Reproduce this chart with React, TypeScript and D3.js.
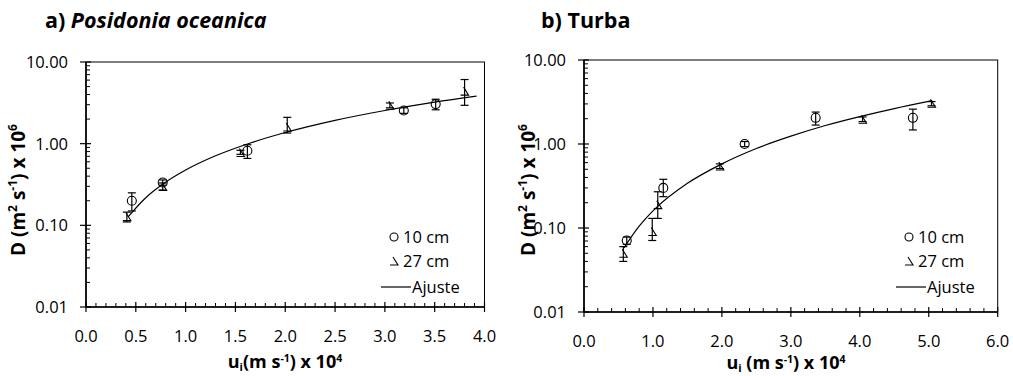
import React from "react";
import * as d3 from "d3";

// ---- Data: panel a) Posidonia oceanica ----
const a10u = [0.46, 0.77, 1.62, 3.19, 3.51];
const a10D = [0.2, 0.335, 0.82, 2.55, 3.05];
const a10Lo = [0.15, 0.31, 0.66, 2.35, 2.6];
const a10Hi = [0.25, 0.36, 0.97, 2.75, 3.5];

const a27u = [0.41, 0.77, 1.55, 2.02, 3.05, 3.8];
const a27D = [0.128, 0.3, 0.78, 1.6, 2.95, 4.4];
const a27Lo = [0.11, 0.27, 0.74, 1.35, 2.75, 2.95];
const a27Hi = [0.145, 0.33, 0.83, 2.1, 3.15, 6.1];

const aFitU = [0.42, 0.6, 0.78, 1.0, 1.3, 1.65, 2.0, 2.5, 3.0, 3.5, 3.92];
const aFitD = [0.126, 0.218, 0.325, 0.475, 0.71, 1.02, 1.37, 1.93, 2.55, 3.23, 3.83];

// ---- Data: panel b) Turba ----
const b10u = [0.62, 1.15, 2.33, 3.36, 4.77];
const b10D = [0.071, 0.3, 1.0, 2.05, 2.05];
const b10Lo = [0.064, 0.236, 0.93, 1.68, 1.47];
const b10Hi = [0.078, 0.38, 1.07, 2.4, 2.6];

const b27u = [0.57, 0.99, 1.07, 1.97, 4.04, 5.04];
const b27D = [0.05, 0.091, 0.19, 0.547, 1.97, 3.05];
const b27Lo = [0.04, 0.071, 0.13, 0.51, 1.85, 2.85];
const b27Hi = [0.06, 0.13, 0.27, 0.58, 2.1, 3.2];

const bFitU = [0.58, 0.8, 1.0, 1.5, 2.0, 2.5, 3.0, 3.5, 4.0, 4.5, 5.05];
const bFitD = [0.058, 0.105, 0.16, 0.34, 0.58, 0.885, 1.24, 1.66, 2.12, 2.64, 3.28];

const yTickVals = [0.01, 0.1, 1, 10];
const yTickLabels = ["0.01", "0.10", "1.00", "10.00"];
const aXTicks = [0, 0.5, 1, 1.5, 2, 2.5, 3, 3.5, 4];
const bXTicks = [0, 1, 2, 3, 4, 5, 6];
const legendLabels = ["10 cm", "27 cm", "Ajuste"];

const FONT = "'Open Sans', 'Liberation Sans', sans-serif";

type PanelProps = {
  x0: number; x1: number; y0: number; y1: number;
  xMax: number; xTicks: number[]; xMinorStep: number;
  u10: number[]; D10: number[]; lo10: number[]; hi10: number[];
  u27: number[]; D27: number[]; lo27: number[]; hi27: number[];
  fitU: number[]; fitD: number[];
  titleX: number; titleA: string; titleB: string; titleItalic: boolean;
  yLabelX: number; yLabelY: number; xLabelX: number; xLabelY: number; xSpace: boolean;
  legX: number;
};

const triPath = "M-4,4 H4 L-1,-4";

function Panel(p: PanelProps) {
  const x = d3.scaleLinear().domain([0, p.xMax]).range([p.x0, p.x1]);
  const y = d3.scaleLog().domain([0.01, 10]).range([p.y1, p.y0]);
  const line = d3
    .line<number>()
    .x((_, i) => x(p.fitU[i]))
    .y((d) => y(d))
    .curve(d3.curveMonotoneX);

  const minorX: number[] = [];
  for (let v = 0; v <= p.xMax + 1e-9; v += p.xMinorStep) {
    const r = Math.round(v * 1000) / 1000;
    if (!p.xTicks.some((t) => Math.abs(t - r) < 1e-6)) minorX.push(r);
  }
  const minorY: number[] = [];
  [0.01, 0.1, 1].forEach((dec) => {
    for (let k = 2; k <= 9; k++) minorY.push(dec * k);
  });

  const err = (u: number, lo: number, hi: number, i: number) => (
    <g key={"e" + i} stroke="#000" strokeWidth={1.2}>
      <line x1={x(u)} x2={x(u)} y1={y(lo)} y2={y(hi)} />
      <line x1={x(u) - 4} x2={x(u) + 4} y1={y(lo)} y2={y(lo)} />
      <line x1={x(u) - 4} x2={x(u) + 4} y1={y(hi)} y2={y(hi)} />
    </g>
  );

  return (
    <g fontFamily={FONT}>
      <text x={p.titleX} y={28} fontSize={21.5} fontWeight="bold">
        {p.titleA}
        <tspan fontStyle={p.titleItalic ? "italic" : "normal"}>{p.titleB}</tspan>
      </text>
      {/* plot frame */}
      <rect x={p.x0} y={p.y0} width={p.x1 - p.x0} height={p.y1 - p.y0} fill="none" stroke="#000" strokeWidth={1} />
      <line x1={p.x0} x2={p.x0} y1={p.y0} y2={p.y1} stroke="#000" strokeWidth={1.6} />
      <line x1={p.x0} x2={p.x1} y1={p.y1} y2={p.y1} stroke="#000" strokeWidth={1.6} />
      {/* y ticks */}
      {yTickVals.map((v, i) => (
        <g key={"yt" + i}>
          <line x1={p.x0 - 6} x2={p.x0 + 5} y1={y(v)} y2={y(v)} stroke="#000" strokeWidth={1.2} />
          <text x={p.x0 - 18} y={y(v)} dy="0.36em" textAnchor="end" fontSize={16.5}>
            {yTickLabels[i]}
          </text>
        </g>
      ))}
      {minorY.map((v, i) => (
        <line key={"ym" + i} x1={p.x0} x2={p.x0 + 4} y1={y(v)} y2={y(v)} stroke="#000" strokeWidth={1} />
      ))}
      {/* x ticks */}
      {p.xTicks.map((v, i) => (
        <g key={"xt" + i}>
          <line x1={x(v)} x2={x(v)} y1={p.y1 - 5} y2={p.y1 + 5} stroke="#000" strokeWidth={1.2} />
          <text x={x(v)} y={p.y1 + 35} textAnchor="middle" fontSize={16.5}>
            {v.toFixed(1)}
          </text>
        </g>
      ))}
      {minorX.map((v, i) => (
        <line key={"xm" + i} x1={x(v)} x2={x(v)} y1={p.y1 - 4} y2={p.y1} stroke="#000" strokeWidth={1} />
      ))}
      {/* axis labels */}
      <text
        transform={`translate(${p.yLabelX},${p.yLabelY}) rotate(-90)`}
        textAnchor="middle"
        fontSize={19}
        fontWeight="bold"
      >
        D (m<tspan fontSize={12} dy={-8}>2</tspan>
        <tspan dy={8}> s</tspan>
        <tspan fontSize={12} dy={-8}>-1</tspan>
        <tspan dy={8}>) x 10</tspan>
        <tspan fontSize={12} dy={-8}>6</tspan>
      </text>
      <text x={p.xLabelX} y={p.xLabelY} textAnchor="middle" fontSize={18} fontWeight="bold">
        u<tspan fontSize={11} dy={3}>i</tspan>
        <tspan dy={-3}>{p.xSpace ? " (m s" : "(m s"}</tspan>
        <tspan fontSize={10.5} dy={-6}>-1</tspan>
        <tspan dy={6}>) x 10</tspan>
        <tspan fontSize={10.5} dy={-6}>4</tspan>
      </text>
      {/* fit */}
      <path d={line(p.fitD) || ""} fill="none" stroke="#000" strokeWidth={1.2} />
      {/* error bars */}
      {p.u10.map((u, i) => err(u, p.lo10[i], p.hi10[i], i))}
      {p.u27.map((u, i) => err(u, p.lo27[i], p.hi27[i], 100 + i))}
      {/* markers */}
      {p.u10.map((u, i) => (
        <circle key={"c" + i} cx={x(u)} cy={y(p.D10[i])} r={4.5} fill="none" stroke="#000" strokeWidth={1.1} />
      ))}
      {p.u27.map((u, i) => (
        <path key={"t" + i} d={triPath} transform={`translate(${x(u)},${y(p.D27[i])})`} fill="none" stroke="#000" strokeWidth={1.1} />
      ))}
      {/* legend */}
      <circle cx={p.legX} cy={237} r={4} fill="none" stroke="#000" strokeWidth={1.1} />
      <text x={p.legX + 9} y={237} dy="0.36em" fontSize={16.5}>{legendLabels[0]}</text>
      <path d={triPath} transform={`translate(${p.legX},${261})`} fill="none" stroke="#000" strokeWidth={1.1} />
      <text x={p.legX + 9} y={261} dy="0.36em" fontSize={16.5}>{legendLabels[1]}</text>
      <line x1={p.legX - 13} x2={p.legX + 17} y1={287} y2={287} stroke="#000" strokeWidth={1.2} />
      <text x={p.legX + 18} y={287} dy="0.36em" fontSize={16.5}>{legendLabels[2]}</text>
    </g>
  );
}

export default function App() {
  return (
    <svg width={1013} height={376} style={{ display: "block", position: "absolute", left: 0, top: 0 }}>
      <rect width={1013} height={376} fill="#fff" />
      <Panel
        x0={86} x1={484.5} y0={62} y1={307} xMax={4} xTicks={aXTicks} xMinorStep={0.1}
        u10={a10u} D10={a10D} lo10={a10Lo} hi10={a10Hi}
        u27={a27u} D27={a27D} lo27={a27Lo} hi27={a27Hi}
        fitU={aFitU} fitD={aFitD}
        titleX={45} titleA="a) " titleB="Posidonia oceanica" titleItalic={true}
        yLabelX={25} yLabelY={190} xLabelX={285} xLabelY={368} xSpace={false} legX={394}
      />
      <Panel
        x0={584} x1={997.7} y0={60} y1={312} xMax={6} xTicks={bXTicks} xMinorStep={0.2}
        u10={b10u} D10={b10D} lo10={b10Lo} hi10={b10Hi}
        u27={b27u} D27={b27D} lo27={b27Lo} hi27={b27Hi}
        fitU={bFitU} fitD={bFitD}
        titleX={541} titleA="b) " titleB="Turba" titleItalic={false}
        yLabelX={535} yLabelY={190} xLabelX={786} xLabelY={369} xSpace={true} legX={909}
      />
    </svg>
  );
}
